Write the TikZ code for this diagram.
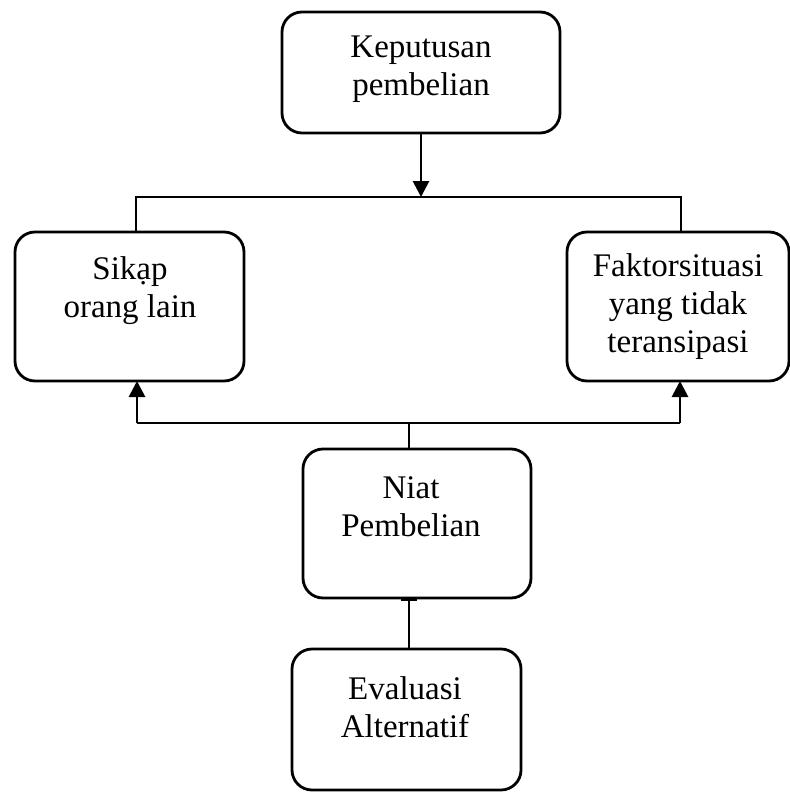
\documentclass[tikz,border=0pt]{standalone}
\usepackage{fontspec}
\setmainfont{Liberation Serif}
\usetikzlibrary{arrows.meta}
\begin{document}
\begin{tikzpicture}[x=0.5pt,y=-0.5pt,
  box/.style={draw, line width=1.4pt, rounded corners=10pt, inner sep=0pt, outer sep=0pt},
  lbl/.style={align=center, font=\fontsize{16.5}{19}\selectfont, inner sep=0pt},
  conn/.style={line width=1.4pt},
  arr/.style={conn, -{Triangle[length=8pt,width=8pt]}},
  tee/.style={conn, -{Bar[width=8pt,line width=1.6pt]}}]
\useasboundingbox (0,0) rectangle (790,792);
% boxes
\node[box, minimum width=139pt, minimum height=60.5pt] (kep) at (421,72.5) {};
\node[box, minimum width=114.5pt, minimum height=74.5pt] (sik) at (129.5,306.5) {};
\node[box, minimum width=111pt, minimum height=74.5pt] (fak) at (678,306.5) {};
\node[box, minimum width=114pt, minimum height=74.5pt] (niat) at (417,523.5) {};
\node[box, minimum width=114.5pt, minimum height=70.5pt] (eval) at (406.5,719.5) {};
% texts
\node[lbl] (kepT) at (421,69) {Keputusan\\pembelian};
\node[lbl] (sikT) at (130,291) {Sikạp\\orang lain};
\node[lbl] (fakT) at (678,307) {Faktorsituasi\\yang tidak\\teransipasi};
\node[lbl] (niatT) at (411,507) {Niat\\Pembelian};
\node[lbl] (evalT) at (405,707) {Evaluasi\\Alternatif};
% junction points
\coordinate (tl) at (136,197);
\coordinate (tm) at (421,197);
\coordinate (tr) at (681,197);
\coordinate (bl) at (137,423);
\coordinate (bm) at (409,423);
\coordinate (br) at (680,423);
% connectors
\draw[arr] (kep.south) -- (tm);
\draw[conn] (sik.north -| tl) -- (tl) -- (tr) -- (fak.north -| tr);
\draw[conn] (bl) -- (br);
\draw[arr] (bl) -- (sik.south -| bl);
\draw[arr] (br) -- (fak.south -| br);
\draw[conn] (bm) -- (niat.north -| bm);
\draw[tee] (eval.north -| bm) -- (niat.south -| bm);
\end{tikzpicture}
\end{document}
